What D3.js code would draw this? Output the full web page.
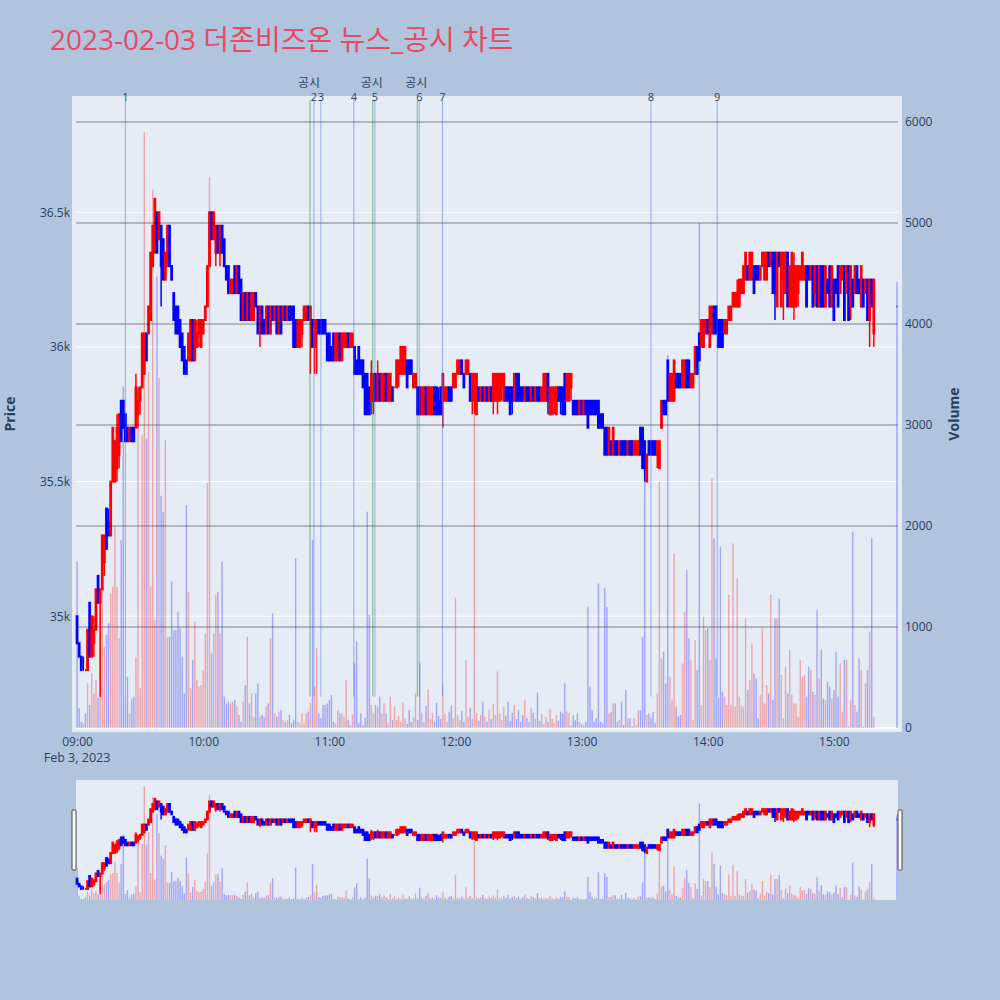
<!DOCTYPE html>
<html><head><meta charset="utf-8">
<script src="https://cdn.jsdelivr.net/npm/d3@7"></script>
<style>body{margin:0;background:#b0c4de}svg{display:block}</style>
</head><body>
<svg id="chart" width="1000" height="1000"></svg>
<script>
const chartTitle = "2023-02-03 더존비즈온 뉴스_공시 차트";
const tradeDate = [2023, 1, 3];
const sessionStart = "09:00";
const closingAuction = "15:30";

const open = [
35000,34900,34850,34800,34800,34800,35050,34850,34900,34950,
35150,35050,35100,35200,35400,35350,35300,35500,35500,35550,
35600,35800,35800,35750,35700,35650,35700,35700,35700,35750,
35800,35850,35900,36050,36050,36100,36300,36350,36500,36400,
36450,36400,36250,36300,36450,36300,36200,36150,36150,36100,
36050,36000,35950,35950,35950,36100,35950,36000,36050,36000,
36050,36100,36150,36300,36500,36400,36350,36450,36350,36450,
36400,36300,36300,36200,36200,36300,36200,36300,36250,36100,
36200,36100,36200,36100,36100,36200,36150,36050,36150,36100,
36050,36150,36050,36150,36100,36150,36050,36150,36100,36150,
36100,36150,36150,36150,36100,36000,36000,36050,36100,36100,
36150,36100,36100,36000,36050,36100,36100,36100,36100,36050,
36050,36000,36050,35950,35950,36050,35950,36000,36000,36050,
36000,36000,36000,35950,36000,35950,35950,35900,35900,35850,
35800,35800,35900,35800,35900,35800,35800,35900,35800,35800,
35850,35850,35850,35900,35900,35900,35900,35950,35950,35950,
35850,35850,35850,35850,35750,35750,35850,35750,35750,35750,
35850,35850,35800,35850,35800,35800,35800,35850,35850,35850,
35850,35900,35900,35950,35900,35900,35900,35900,35800,35800,
35750,35850,35800,35850,35800,35850,35800,35850,35800,35800,
35800,35800,35850,35800,35850,35850,35850,35850,35800,35900,
35900,35850,35850,35800,35850,35850,35800,35850,35800,35850,
35850,35800,35800,35800,35900,35750,35750,35800,35750,35850,
35850,35850,35900,35800,35800,35850,35800,35800,35800,35750,
35800,35750,35800,35800,35800,35800,35800,35800,35800,35750,
35750,35700,35700,35600,35650,35600,35650,35650,35600,35650,
35650,35650,35600,35650,35650,35600,35600,35600,35700,35700,
35650,35500,35650,35650,35650,35650,35600,35550,35700,35800,
35800,35950,35800,35800,35800,35900,35900,35900,35850,35850,
35950,35950,35850,35850,35900,36000,36050,36000,36000,36050,
36100,36000,36050,36150,36150,36100,36100,36100,36050,36050,
36100,36100,36150,36150,36150,36150,36200,36200,36250,36300,
36250,36250,36300,36300,36300,36250,36300,36250,36250,36350,
36300,36350,36350,36150,36350,36150,36250,36200,36350,36150,
36150,36150,36150,36200,36250,36250,36250,36300,36300,36250,
36300,36200,36300,36150,36300,36300,36150,36250,36300,36150,
36250,36250,36300,36200,36250,36300,36200,36300,36150,36250,
36200,36300,36250,36150,36250,36200,36250,36100,36250,36050,
36150];

const high = [
35000,34900,34850,34850,34800,34950,35050,35000,35000,35100,
35150,35100,35300,35300,35400,35400,35500,35700,35650,35750,
35750,35800,35800,35750,35700,35700,35700,35700,35900,35850,
35850,36050,36050,36050,36150,36350,36450,36550,36500,36500,
36450,36400,36350,36450,36450,36300,36200,36150,36150,36100,
36050,36000,35950,36050,36100,36100,36100,36100,36100,36100,
36100,36150,36300,36500,36500,36500,36450,36450,36450,36450,
36400,36300,36300,36250,36250,36300,36300,36300,36250,36200,
36200,36200,36200,36200,36200,36200,36150,36150,36150,36100,
36150,36150,36150,36150,36150,36150,36150,36150,36150,36150,
36150,36150,36150,36150,36100,36100,36100,36100,36150,36150,
36150,36150,36100,36100,36100,36100,36100,36100,36100,36050,
36050,36000,36050,36050,36050,36050,36050,36050,36050,36050,
36050,36050,36000,35950,36000,35950,35950,35900,35900,35850,
35950,35900,35900,35950,35900,35900,35900,35900,35900,35900,
35850,35850,35950,35950,36000,36000,36000,35950,35950,35950,
35900,35900,35850,35850,35850,35850,35850,35850,35850,35850,
35850,35850,35850,35850,35900,35850,35850,35850,35850,35900,
35900,35950,35950,35950,35900,35950,35950,35900,35900,35900,
35900,35850,35850,35850,35850,35850,35850,35850,35900,35900,
35900,35900,35900,35900,35850,35850,35850,35850,35900,35900,
35900,35850,35850,35850,35850,35850,35850,35850,35850,35850,
35850,35850,35900,35900,35900,35850,35850,35850,35850,35850,
35850,35850,35900,35900,35900,35900,35800,35800,35800,35800,
35800,35800,35800,35800,35800,35800,35800,35800,35800,35750,
35750,35700,35700,35700,35650,35700,35650,35650,35650,35650,
35650,35650,35650,35650,35650,35650,35650,35650,35700,35700,
35650,35600,35650,35650,35650,35650,35650,35650,35800,35800,
35800,35950,35900,35900,35950,35900,35900,35900,35950,35950,
35950,35950,35900,35900,36000,36000,36050,36100,36100,36100,
36100,36150,36150,36150,36150,36100,36100,36100,36100,36100,
36150,36150,36200,36200,36250,36250,36250,36300,36350,36300,
36350,36350,36300,36300,36300,36300,36350,36350,36350,36350,
36350,36350,36350,36350,36350,36350,36350,36350,36350,36300,
36350,36350,36300,36300,36300,36350,36300,36300,36300,36300,
36300,36300,36300,36300,36300,36300,36300,36250,36300,36300,
36250,36250,36300,36300,36300,36300,36300,36300,36300,36250,
36300,36300,36250,36300,36250,36250,36250,36250,36250,36250,
36150];

const low = [
34900,34850,34800,34800,34800,34800,34850,34850,34850,34950,
35050,34700,35100,35150,35250,35300,35300,35500,35500,35500,
35550,35650,35700,35650,35650,35650,35650,35650,35700,35700,
35750,35850,35900,35950,36050,36100,36300,36350,36350,36400,
36150,36250,36250,36300,36300,36250,36100,36050,36050,36000,
35950,35900,35900,35950,35950,35950,35950,36000,36000,36000,
36050,36100,36150,36300,36400,36400,36300,36350,36300,36350,
36300,36250,36200,36200,36200,36200,36200,36200,36100,36100,
36100,36100,36100,36100,36100,36150,36050,36000,36050,36050,
36050,36050,36050,36100,36100,36050,36050,36050,36100,36100,
36100,36100,36100,36000,36000,36000,36000,36000,36100,36100,
36100,35900,36000,35900,35900,36050,36050,36050,36050,35950,
35950,35950,35950,35950,35950,35950,35950,36000,36000,36000,
36000,36000,35900,35900,35900,35900,35850,35750,35750,35750,
35750,35750,35800,35800,35800,35800,35800,35800,35800,35800,
35800,35850,35850,35850,35900,35900,35900,35850,35900,35900,
35850,35850,35750,35750,35750,35750,35750,35750,35750,35750,
35750,35750,35750,35750,35700,35800,35800,35800,35800,35850,
35850,35900,35900,35900,35850,35900,35900,35800,35750,35750,
35750,35800,35800,35800,35800,35800,35800,35800,35750,35800,
35750,35800,35800,35800,35800,35800,35750,35750,35800,35800,
35800,35800,35800,35800,35800,35800,35800,35800,35800,35800,
35800,35800,35800,35800,35750,35750,35750,35750,35750,35800,
35750,35750,35750,35800,35800,35800,35750,35750,35750,35750,
35750,35750,35750,35700,35750,35750,35750,35750,35700,35700,
35700,35600,35600,35600,35600,35600,35600,35600,35600,35600,
35600,35600,35600,35600,35600,35600,35600,35600,35600,35550,
35500,35500,35600,35600,35600,35600,35550,35550,35700,35750,
35750,35800,35800,35800,35800,35850,35850,35850,35850,35850,
35850,35850,35850,35850,35900,35900,35950,36000,36000,36050,
36050,36000,36050,36050,36050,36000,36000,36000,36050,36050,
36100,36100,36150,36150,36150,36150,36200,36200,36250,36250,
36250,36250,36200,36250,36250,36250,36300,36250,36250,36300,
36300,36200,36100,36150,36300,36150,36100,36200,36150,36150,
36150,36100,36150,36150,36250,36250,36250,36150,36250,36250,
36150,36150,36150,36150,36150,36150,36150,36200,36150,36150,
36100,36200,36150,36200,36250,36100,36200,36100,36100,36150,
36200,36200,36200,36150,36150,36200,36100,36000,36150,36000,
36150];

const close = [
34900,34850,34800,34800,34800,34950,34850,35000,34950,35100,
35050,35100,35300,35300,35250,35300,35500,35700,35650,35700,
35750,35650,35700,35650,35650,35700,35650,35650,35850,35800,
35850,36050,36050,35950,36150,36350,36450,36550,36350,36500,
36300,36250,36350,36450,36300,36250,36100,36050,36050,36000,
35950,35900,35900,36050,36100,35950,36100,36050,36100,36100,
36100,36150,36300,36500,36400,36500,36450,36350,36450,36350,
36300,36250,36200,36250,36250,36200,36300,36200,36100,36200,
36100,36200,36100,36200,36200,36150,36050,36150,36050,36050,
36150,36050,36150,36100,36150,36050,36150,36050,36150,36100,
36150,36100,36100,36000,36000,36100,36100,36100,36150,36150,
36100,36150,36000,36100,36100,36050,36050,36050,36050,35950,
35950,35950,35950,36050,36050,35950,36050,36050,36050,36000,
36050,36050,35900,35900,35900,35900,35850,35750,35750,35750,
35900,35900,35800,35900,35800,35900,35900,35800,35900,35900,
35800,35850,35950,35950,36000,36000,36000,35850,35900,35900,
35900,35900,35750,35750,35850,35850,35750,35850,35850,35850,
35750,35750,35750,35750,35900,35850,35850,35800,35800,35900,
35900,35950,35950,35900,35850,35950,35950,35800,35900,35900,
35900,35800,35850,35800,35850,35800,35850,35800,35900,35900,
35900,35900,35900,35900,35800,35800,35750,35800,35900,35800,
35800,35800,35800,35850,35800,35800,35850,35800,35850,35800,
35800,35850,35900,35900,35800,35850,35850,35850,35850,35800,
35800,35750,35750,35900,35900,35900,35750,35750,35750,35800,
35750,35800,35750,35700,35750,35750,35750,35750,35700,35700,
35700,35600,35600,35700,35600,35700,35600,35600,35650,35600,
35600,35600,35650,35600,35600,35650,35650,35650,35600,35550,
35550,35600,35600,35600,35600,35600,35650,35650,35800,35750,
35750,35800,35900,35900,35950,35850,35850,35850,35950,35950,
35850,35850,35900,35900,36000,35900,35950,36100,36100,36100,
36050,36150,36150,36050,36050,36000,36000,36000,36100,36100,
36150,36150,36200,36200,36200,36250,36250,36300,36350,36250,
36350,36350,36200,36250,36250,36300,36350,36350,36350,36300,
36350,36200,36200,36350,36300,36350,36350,36350,36150,36300,
36350,36300,36300,36300,36300,36350,36300,36150,36250,36300,
36150,36300,36150,36300,36150,36150,36300,36200,36150,36300,
36100,36200,36150,36300,36300,36100,36300,36100,36300,36150,
36300,36200,36200,36300,36150,36250,36100,36250,36150,36250,
36150];

const volume = [
1647,195,63,46,145,442,228,541,343,475,
300,1340,1595,805,920,1040,1333,1400,2010,1400,
888,1861,3380,310,508,145,290,310,700,3020,
393,2900,5900,2870,3525,1400,5330,1069,4470,3465,
2300,2140,2850,904,904,1449,970,970,1152,987,
706,343,2208,1350,393,673,1053,475,409,426,
574,937,2425,5455,739,937,1314,1350,937,1647,
310,244,260,244,260,277,211,129,63,260,
426,904,244,343,112,343,442,112,129,112,
211,244,888,1135,145,112,162,178,79,63,
79,129,46,79,1680,63,46,145,46,145,
162,250,1861,409,789,145,100,228,228,244,
277,327,63,46,178,145,145,112,475,79,
30,129,640,854,46,145,30,100,2142,1119,
228,150,228,211,310,145,244,145,46,310,
79,211,79,120,60,250,90,40,180,60,
110,350,80,640,150,60,220,380,90,150,
60,250,120,90,430,140,60,160,220,100,
1290,130,80,170,60,670,110,200,90,3100,
150,70,130,260,110,60,180,90,240,130,
560,140,80,210,120,260,70,150,230,90,
180,60,130,280,100,60,200,150,90,350,
70,140,40,110,60,190,90,50,130,70,
162,145,442,162,152,30,129,79,145,60,
40,30,63,1201,409,178,60,96,1432,63,
50,1383,1201,145,162,244,244,63,79,261,
30,376,96,96,13,96,30,178,178,904,
2800,129,145,100,162,46,343,2439,690,756,
442,3693,508,277,1729,211,112,129,640,1152,
1564,888,673,79,871,574,5000,228,1102,970,
987,673,2472,1878,690,300,1795,360,310,228,
1317,228,1828,211,1482,310,228,211,1086,376,
475,838,541,491,96,327,987,244,426,343,
1317,277,1086,1086,1284,525,96,607,343,772,
327,244,244,112,673,508,525,310,607,574,
360,327,1168,491,772,294,277,459,409,294,
376,756,310,640,162,673,673,13,277,1944,
228,162,690,574,13,442,574,954,1878,112,
4416];

const newsTimes = ["09:23:00","10:52:40","10:56:00","11:11:40","11:21:40","11:42:50","11:53:50","13:33:00","14:04:30"];
const newsLabels = ["1","2","3","4","5","6","7","8","9"];
const disclosureTimes = ["10:50:50","11:20:40","11:41:50"];
const disclosureLabel = "공시";

const priceTicks = [35000, 35500, 36000, 36500];
const priceTickLabels = ["35k", "35.5k", "36k", "36.5k"];
const volumeTicks = [0, 1000, 2000, 3000, 4000, 5000, 6000];
const timeTicks = ["09:00","10:00","11:00","12:00","13:00","14:00","15:00"];
const dateLabel = "Feb 3, 2023";

// ---------- helpers ----------
function at(hms) {
  const p = hms.split(":").map(Number);
  return new Date(tradeDate[0], tradeDate[1], tradeDate[2], p[0], p[1], p[2] || 0);
}
const start = at(sessionStart);
const times = open.map((_, i) => i < open.length - 1 ? new Date(start.getTime() + i * 60000) : at(closingAuction));

const candles = times.map((t, i) => {
  let up;
  if (close[i] > open[i]) up = true;
  else if (close[i] < open[i]) up = false;
  else up = i > 0 ? close[i] > close[i - 1] : false;
  return { t, o: open[i], h: high[i], l: low[i], c: close[i], v: volume[i], up };
});

const RED = "#ff0000", BLUE = "#0000ff";
const FONT = "'Open Sans', 'Noto Sans CJK KR', sans-serif";
const TXT = "#2a3f5f";

const svg = d3.select("#chart");
svg.append("rect").attr("width", 1000).attr("height", 1000).attr("fill", "#b0c4de");

// plot area
const L = 76, R = 898, T = 100, B = 728;
const xDomain = [new Date(start.getTime() - 30000), new Date(at(closingAuction).getTime() + 30000)];
const x = d3.scaleTime().domain(xDomain).range([L, R]);
const yP = d3.scaleLinear().domain([34585, 36917]).range([B, T]);
const yV = d3.scaleLinear().domain([0, 6218]).range([B, T]);

svg.append("rect").attr("x", L - 4).attr("y", T - 4).attr("width", R - L + 8).attr("height", B - T + 8).attr("fill", "#e5ecf6");

// price grid (white)
svg.append("g").selectAll("line").data(priceTicks).join("line")
  .attr("x1", L).attr("x2", R).attr("y1", d => yP(d)).attr("y2", d => yP(d))
  .attr("stroke", "#ffffff").attr("stroke-width", 1);

function drawCandles(g, xs, ys, bw, sw, ww) {
  const gg = g.append("g");
  gg.selectAll("path.w").data(candles).join("path").attr("class", "w")
    .attr("d", d => `M${xs(d.t)},${ys(d.h)}V${ys(d.l)}`)
    .attr("stroke", d => d.up ? RED : BLUE).attr("stroke-width", ww).attr("fill", "none");
  gg.selectAll("path.b").data(candles).join("path").attr("class", "b")
    .attr("d", d => {
      const cx = xs(d.t), x0 = cx - bw / 2, x1 = cx + bw / 2;
      return `M${x0},${ys(d.o)}H${x1}V${ys(d.c)}H${x0}Z`;
    })
    .attr("fill", d => d.up ? RED : BLUE).attr("stroke", d => d.up ? RED : BLUE)
    .attr("stroke-width", sw);
}
function drawVolume(g, xs, ys, w) {
  g.append("g").selectAll("rect").data(candles).join("rect")
    .attr("x", d => xs(d.t) - w / 2).attr("width", w)
    .attr("y", d => ys(d.v)).attr("height", d => ys(0) - ys(d.v))
    .attr("fill", d => d.up ? RED : BLUE).attr("fill-opacity", 0.3);
}

drawCandles(svg, x, yP, 0.8, 2, 1.5);

// volume grid (overlay axis)
svg.append("g").selectAll("line").data(volumeTicks.filter(d => d > 0)).join("line")
  .attr("x1", L).attr("x2", R).attr("y1", d => yV(d)).attr("y2", d => yV(d))
  .attr("stroke", "rgba(0,0,0,0.3)").attr("stroke-width", 1.6);
svg.append("line").attr("x1", L).attr("x2", R).attr("y1", yV(0)).attr("y2", yV(0))
  .attr("stroke", "#ffffff").attr("stroke-width", 2);

drawVolume(svg, x, yV, 1.4);

// event lines
const lineTop = T, lineBottom = B - 0.05 * (B - T);
svg.append("g").selectAll("line").data(disclosureTimes).join("line")
  .attr("x1", d => x(at(d))).attr("x2", d => x(at(d)))
  .attr("y1", lineTop).attr("y2", lineBottom)
  .attr("stroke", "green").attr("stroke-opacity", 0.5).attr("stroke-width", 1);
svg.append("g").selectAll("line").data(newsTimes).join("line")
  .attr("x1", d => x(at(d))).attr("x2", d => x(at(d)))
  .attr("y1", lineTop).attr("y2", lineBottom)
  .attr("stroke", "royalblue").attr("stroke-opacity", 0.5).attr("stroke-width", 1);

svg.append("g").selectAll("text").data(disclosureTimes).join("text")
  .attr("x", d => x(at(d)) - 1).attr("y", 87).attr("text-anchor", "middle")
  .attr("font-family", FONT).attr("font-size", 12).attr("fill", TXT).text(disclosureLabel);
svg.append("g").selectAll("text").data(newsTimes).join("text")
  .attr("x", d => x(at(d))).attr("y", 101).attr("text-anchor", "middle")
  .attr("font-family", FONT).attr("font-size", 11).attr("fill", TXT).text((d, i) => newsLabels[i]);

// axes
function styleAxis(g) {
  g.select(".domain").remove();
  g.selectAll("text").attr("font-family", FONT).attr("font-size", 12).attr("fill", TXT);
}
svg.append("g").attr("transform", `translate(${L},0)`)
  .call(d3.axisLeft(yP).tickValues(priceTicks).tickFormat((d, i) => priceTickLabels[i]).tickSize(0).tickPadding(6))
  .call(styleAxis);
svg.append("g").attr("transform", `translate(${R},0)`)
  .call(d3.axisRight(yV).tickValues(volumeTicks).tickFormat(d3.format("d")).tickSize(0).tickPadding(7))
  .call(styleAxis);
svg.append("g").attr("transform", `translate(0,${B})`)
  .call(d3.axisBottom(x).tickValues(timeTicks.map(at)).tickFormat(d3.timeFormat("%H:%M")).tickSize(0).tickPadding(9.5))
  .call(styleAxis);
svg.append("text").attr("x", x(at(timeTicks[0]))).attr("y", 762).attr("text-anchor", "middle")
  .attr("font-family", FONT).attr("font-size", 12.5).attr("fill", TXT).text(dateLabel);

svg.append("text").attr("transform", "translate(15,414) rotate(-90)").attr("text-anchor", "middle")
  .attr("font-family", FONT).attr("font-size", 14).attr("font-weight", "bold").attr("fill", TXT).text("Price");
svg.append("text").attr("transform", "translate(959,414) rotate(-90)").attr("text-anchor", "middle")
  .attr("font-family", FONT).attr("font-size", 14).attr("font-weight", "bold").attr("fill", TXT).text("Volume");

// title
svg.append("text").attr("x", 50).attr("y", 50).attr("font-family", FONT).attr("font-size", 28)
  .attr("fill", "#e84a64").text(chartTitle);

// range slider
const ST = 780, SB = 900;
const ys2P = d3.scaleLinear().domain(yP.domain()).range([SB, ST]);
const ys2V = d3.scaleLinear().domain(yV.domain()).range([SB, ST]);
svg.append("rect").attr("x", L).attr("y", ST).attr("width", R - L).attr("height", SB - ST).attr("fill", "#e5ecf6");
const sg = svg.append("g");
drawCandles(sg, x, ys2P, 0.8, 2, 1.5);
drawVolume(sg, x, ys2V, 1.4);
[L - 2, R + 2].forEach(hx => {
  svg.append("rect").attr("x", hx - 2).attr("y", (ST + SB) / 2 - 30).attr("width", 4).attr("height", 60)
    .attr("rx", 1).attr("fill", "#ffffff").attr("stroke", "#444").attr("stroke-width", 1);
});
</script>
</body></html>
